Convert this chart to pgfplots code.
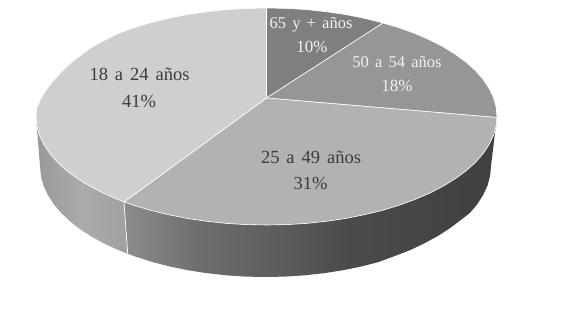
\documentclass[border=0pt]{standalone}
\usepackage{pgfplots}
\pgfplotsset{compat=1.18}
\usepackage{fontspec}
\setmainfont{Liberation Serif}[WordSpace=1.5]
\definecolor{tA}{HTML}{7F7F7F}
\definecolor{tB}{HTML}{969696}
\definecolor{tC}{HTML}{B2B2B2}
\definecolor{tD}{HTML}{CFCFCF}
\definecolor{darkT}{HTML}{3C3C3C}
\definecolor{lightT}{HTML}{F2F2F2}
\pgfdeclarehorizontalshading{sidedark}{100bp}{color(0bp)=(black!45);color(25bp)=(black!45);color(35bp)=(black!57);color(46bp)=(black!64);color(55.6bp)=(black!71);color(75bp)=(black!75);color(100bp)=(black!75)}
\pgfdeclarehorizontalshading{sidelight}{100bp}{color(0bp)=(black!40);color(25bp)=(black!40);color(50bp)=(black!33);color(75bp)=(black!37);color(100bp)=(black!37)}
\newcommand{\labD}{\fontsize{18.5}{20}\selectfont}
\newcommand{\pctD}{\fontsize{18.5}{20}\selectfont}
\newcommand{\labL}{\fontsize{16.5}{20}\selectfont}
\newcommand{\pctL}{\fontsize{17}{20}\selectfont}
\begin{document}
\begin{tikzpicture}
\path[use as bounding box] (0,0) rectangle (561pt,309pt);
\begin{axis}[at={(0,0)},anchor=south west,scale only axis,width=561pt,height=309pt,
  xmin=0,xmax=561,ymin=0,ymax=309,y dir=reverse,hide axis,clip=false]
% side, dark part
\addplot[shading=sidedark,draw=none] coordinates {
(124.0,202.0)(134.3,205.4)(151.2,210.5)(169.1,214.8)(187.7,218.5)(206.8,221.3)(226.5,223.4)(246.4,224.6)(266.5,225.0)(286.6,224.6)(306.5,223.4)(326.2,221.3)(345.3,218.5)(363.9,214.8)(381.8,210.5)(398.7,205.4)(414.7,199.6)(429.5,193.2)(443.1,186.2)(455.3,178.7)(466.1,170.8)(475.4,162.4)(483.1,153.6)(489.1,144.6)(493.5,135.3)(496.1,126.0)(497.0,116.5)
(491.0,166.0)(490.1,175.7)(487.6,185.3)(483.3,194.7)(477.4,204.0)(469.9,212.9)(460.8,220.0)(450.2,228.0)(438.2,235.8)(425.0,243.0)(410.4,250.0)(394.8,256.0)(378.3,262.1)(360.8,266.6)(342.6,270.3)(323.9,273.2)(304.7,275.3)(285.2,276.6)(265.5,277.0)(245.8,276.6)(226.3,275.3)(207.1,273.2)(188.4,270.3)(170.2,266.6)(152.7,262.1)(136.2,256.9)(127.7,253.7)} -- cycle;
% side, light part
\addplot[shading=sidelight,draw=none] coordinates {
(36.0,116.5)(36.9,126.0)(39.5,135.3)(43.9,144.6)(49.9,153.6)(57.6,162.4)(66.9,170.8)(77.7,178.7)(89.9,186.2)(103.5,193.2)(118.3,199.6)(124.0,202.0)
(127.7,253.7)(120.6,251.0)(106.0,244.5)(92.8,237.3)(80.8,229.7)(70.2,221.5)(61.1,212.9)(53.6,204.0)(47.7,194.7)(43.4,185.3)(40.9,175.7)(40.0,166.0)} -- cycle;
% seam between side parts
\addplot[white,line width=0.7pt] coordinates {(124.0,202.0)(127.7,253.7)};
% 65 y + anos
\addplot[fill=tA,draw=white,line width=0.6pt] coordinates {
(266.5,98)(266.5,8.0)(286.6,8.4)(306.5,9.6)(326.2,11.7)(345.3,14.5)(363.9,18.2)(383.0,23.0)} -- cycle;
% 50 a 54 anos
\addplot[fill=tB,draw=white,line width=0.6pt] coordinates {
(266.5,98)(383.0,23.0)(398.7,27.6)(414.7,33.4)(429.5,39.8)(443.1,46.8)(455.3,54.3)(466.1,62.2)(475.4,70.6)(483.1,79.4)(489.1,88.4)(493.5,97.7)(496.1,107.0)(497.0,117.5)} -- cycle;
% 25 a 49 anos
\addplot[fill=tC,draw=white,line width=0.6pt] coordinates {
(266.5,98)(497.0,117.5)(496.1,126.0)(493.5,135.3)(489.1,144.6)(483.1,153.6)(475.4,162.4)(466.1,170.8)(455.3,178.7)(443.1,186.2)(429.5,193.2)(414.7,199.6)(398.7,205.4)(381.8,210.5)(363.9,214.8)(345.3,218.5)(326.2,221.3)(306.5,223.4)(286.6,224.6)(266.5,225.0)(246.4,224.6)(226.5,223.4)(206.8,221.3)(187.7,218.5)(169.1,214.8)(151.2,210.5)(134.3,205.4)(124.0,202.0)} -- cycle;
% 18 a 24 anos
\addplot[fill=tD,draw=white,line width=0.6pt] coordinates {
(266.5,98)(124.0,202.0)(118.3,199.6)(103.5,193.2)(89.9,186.2)(77.7,178.7)(66.9,170.8)(57.6,162.4)(49.9,153.6)(43.9,144.6)(39.5,135.3)(36.9,126.0)(36.0,116.5)(36.9,107.5)(40.5,99.5)(45.0,91.5)(51.5,83.0)(59.5,74.0)(68.5,65.0)(79.0,56.5)(90.5,48.0)(104.0,40.5)(118.3,33.4)(134.3,27.6)(151.2,22.5)(169.1,18.2)(187.7,14.5)(206.8,11.7)(226.5,9.6)(246.4,8.4)(266.5,8.0)} -- cycle;
\node[text=darkT,font=\labD] at (axis cs:139.5,74.5) {18 a 24 años};
\node[text=darkT,font=\pctD] at (axis cs:139,101) {41\%};
\node[text=darkT,font=\labD] at (axis cs:311,157.5) {25 a 49 años};
\node[text=darkT,font=\pctD] at (axis cs:310.5,183.5) {31\%};
\node[text=lightT,font=\labL] at (axis cs:311,24.5) {65 y + años};
\node[text=lightT,font=\pctL] at (axis cs:312,47) {10\%};
\node[text=lightT,font=\labL] at (axis cs:397,62.5) {50 a 54 años};
\node[text=lightT,font=\pctL] at (axis cs:397,86) {18\%};
\end{axis}
\end{tikzpicture}
\end{document}
